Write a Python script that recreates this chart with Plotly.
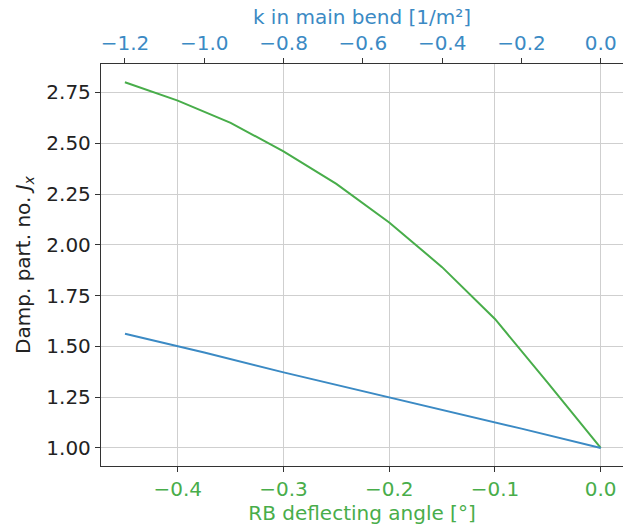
import plotly.graph_objects as go

# Data
angle = [-0.45, -0.40, -0.35, -0.30, -0.25, -0.20, -0.15, -0.10, -0.05, 0.00]
jx_angle = [2.80, 2.71, 2.60, 2.46, 2.30, 2.11, 1.89, 1.635, 1.32, 1.00]

k_bend = [-1.2, -1.0, -0.8, -0.6, -0.4, -0.2, 0.0]
jx_k = [1.562, 1.47, 1.372, 1.28, 1.19, 1.095, 1.00]

bottom_ticks = [-0.4, -0.3, -0.2, -0.1, 0.0]
top_ticks = [-1.2, -1.0, -0.8, -0.6, -0.4, -0.2, 0.0]
y_ticks = [1.00, 1.25, 1.50, 1.75, 2.00, 2.25, 2.50, 2.75]

GREEN = "#48ad4a"
BLUE = "#3b8ac4"
FONT = "DejaVu Sans"
FS = 20

fig = go.Figure()
fig.add_trace(go.Scatter(x=angle, y=jx_angle, mode="lines",
                         line=dict(color=GREEN, width=2), xaxis="x", yaxis="y",
                         showlegend=False))
fig.add_trace(go.Scatter(x=k_bend, y=jx_k, mode="lines",
                         line=dict(color=BLUE, width=2), xaxis="x2", yaxis="y",
                         showlegend=False))

axis_common = dict(ticks="outside", ticklen=5, tickwidth=1, zeroline=False)

fig.update_layout(
    width=623, height=526,
    margin=dict(l=101, r=0, t=64, b=60),
    paper_bgcolor="white", plot_bgcolor="white",
    font=dict(family=FONT, size=FS, color="#222"),
    xaxis=dict(
        range=[-0.4726, 0.0211], tickvals=bottom_ticks, tickformat=".1f",
        tickfont=dict(color=GREEN, size=FS), tickcolor="#333",
        title=dict(text="RB deflecting angle [°]", font=dict(color=GREEN, size=FS), standoff=1),
        showgrid=True, gridcolor="#cfcfcf", gridwidth=1.3,
        showline=True, linecolor="#333", linewidth=1.3,
        **axis_common),
    xaxis2=dict(
        range=[-1.2605, 0.0561], tickvals=top_ticks, tickformat=".1f",
        overlaying="x", side="top", anchor="y",
        tickfont=dict(color=BLUE, size=FS), tickcolor="#333",
        title=dict(text="k in main bend [1/m²]", font=dict(color=BLUE, size=FS), standoff=0),
        showgrid=False,
        showline=True, linecolor="#333", linewidth=1.3,
        **axis_common),
    yaxis=dict(
        range=[0.911, 2.89], tickvals=y_ticks, tickformat=".2f",
        tickfont=dict(color="#222", size=FS), tickcolor="#333",
        title=dict(text="Damp. part. no. <i>J</i><sub><i>x</i></sub>", font=dict(size=FS), standoff=10),
        showgrid=True, gridcolor="#cfcfcf", gridwidth=1.3,
        showline=True, linecolor="#333", linewidth=1.3,
        **axis_common),
)

fig.write_html("out.html")
